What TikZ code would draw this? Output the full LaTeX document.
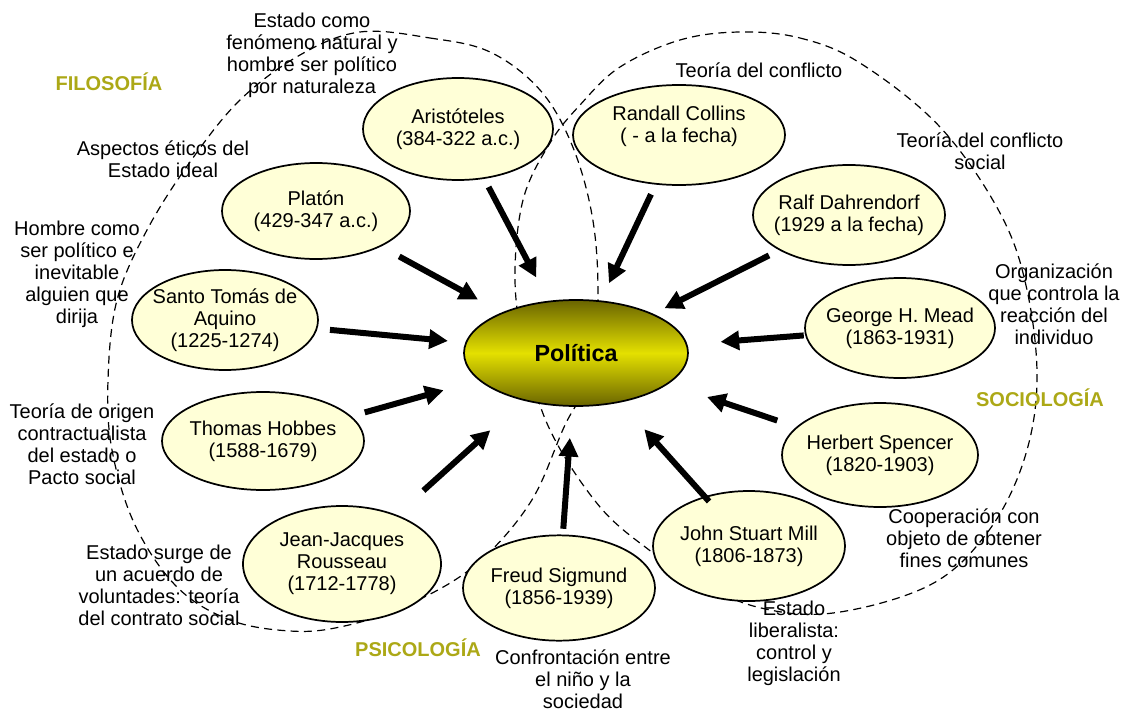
\documentclass[tikz,border=0pt]{standalone}
\usepackage{fontspec}
\setmainfont{Liberation Sans}
\usetikzlibrary{arrows.meta,shapes.geometric,calc}

\definecolor{cream}{RGB}{255,255,215}
\definecolor{olivedark}{RGB}{105,100,0}
\definecolor{olivebright}{RGB}{228,224,0}
\definecolor{fieldtxt}{RGB}{172,168,22}

\begin{document}
\begin{tikzpicture}[x=0.75pt,y=-0.75pt,
  person/.style={ellipse, draw, line width=1.3pt, fill=cream,
    inner xsep=-12pt, inner ysep=-6pt,
    align=center, font=\fontsize{15}{16.5}\selectfont},
  note/.style={align=center, inner sep=0pt, font=\fontsize{15}{16.5}\selectfont},
  field/.style={inner sep=0pt, text=fieldtxt, font=\bfseries\fontsize{15}{17}\selectfont},
  infl/.style={line width=4.5pt, -{Triangle[length=14pt,width=14pt]}},
  fieldline/.style={line width=0.9pt, dash pattern=on 6pt off 4pt}]

\useasboundingbox (0,0) rectangle (1127,713);

% the two fields of thought
\draw[fieldline] plot[smooth cycle, tension=0.6] coordinates {
  (360,32) (430,38) (490,52) (540,90) (572,145) (592,215) (598,290)
  (593,370) (565,425) (530,503) (473,567) (403,607) (340,627) (290,631)
  (230,620) (177,587) (135,525) (112,450) (108,380) (117,300) (147,230)
  (190,162) (240,100) (300,55)};
\draw[fieldline] plot[smooth cycle, tension=0.6] coordinates {
  (740,32) (800,38) (860,63) (940,127) (1000,213) (1027,290) (1037,383)
  (1023,463) (987,533) (930,585) (833,613) (757,607) (690,578) (653,553)
  (600,507) (550,430) (525,350) (515,280) (523,200) (550,143) (580,105)
  (620,67) (680,40)};

% central concept
\node[ellipse, draw, line width=1.3pt, inner sep=0pt,
  minimum width=168pt, minimum height=79.5pt,
  top color=olivedark, bottom color=olivedark, middle color=olivebright,
  font=\bfseries\fontsize{17.5}{21}\selectfont] (pol) at (576,353) {Política};

% authors
\node[person, minimum width=142.5pt, minimum height=76.5pt] (ari) at (458,129) {Aristóteles\\(384-322 a.c.)};
\node[person, minimum width=159pt, minimum height=75pt] (ran) at (679,135) {Randall Collins\\( - a la fecha)\\\mbox{}};
\node[person, minimum width=144pt, minimum height=75pt] (ral) at (849,215) {Ralf Dahrendorf\\(1929 a la fecha)};
\node[person, minimum width=142.5pt, minimum height=75pt] (mea) at (900,328) {George H. Mead\\(1863-1931)};
\node[person, minimum width=147pt, minimum height=78pt] (spe) at (880,455) {Herbert Spencer\\(1820-1903)};
\node[person, minimum width=144pt, minimum height=82.5pt] (mil) at (749,546) {John Stuart Mill\\(1806-1873)};
\node[person, minimum width=144pt, minimum height=79pt] (fre) at (559,588) {Freud Sigmund\\(1856-1939)};
\node[person, minimum width=148.5pt, minimum height=87pt] (rou) at (342,564) {Jean-Jacques\\Rousseau\\(1712-1778)};
\node[person, minimum width=151.5pt, minimum height=73.5pt] (hob) at (263,441) {Thomas Hobbes\\(1588-1679)};
\node[person, minimum width=139.5pt, minimum height=75pt] (tom) at (225,320) {Santo Tomás de\\Aquino\\(1225-1274)};
\node[person, minimum width=141pt, minimum height=72pt] (pla) at (316,211) {Platón\\(429-347 a.c.)};

% influences
\draw[infl] ($(ari)!0.259!(pol)$) -- ($(ari)!0.663!(pol)$);
\draw[infl] ($(ran)!0.272!(pol)$) -- ($(ran)!0.680!(pol)$);
\draw[infl] ($(ral)!0.293!(pol)$) -- ($(ral)!0.676!(pol)$);
\draw[infl] ($(pla)!0.320!(pol)$) -- ($(pla)!0.623!(pol)$);
\draw[infl] ($(tom)!0.299!(pol)$) -- ($(tom)!0.635!(pol)$);
\draw[infl] ($(hob)!0.325!(pol)$) -- ($(hob)!0.577!(pol)$);
\draw[infl] ($(rou)!0.348!(pol)$) -- ($(rou)!0.634!(pol)$);
\draw[infl] ($(fre)!0.252!(pol)$) -- ($(fre)!0.639!(pol)$);
\draw[infl] ($(mil)!0.231!(pol)$) -- ($(mil)!0.605!(pol)$);
\draw[infl] ($(spe)!0.338!(pol)$) -- ($(spe)!0.569!(pol)$);
\draw[infl] ($(mea)!0.297!(pol)$) -- ($(mea)!0.554!(pol)$);

% field labels
\node[field] (fil) at (109,82) {FILOSOFÍA};
\node[field] (psi) at (418,648) {PSICOLOGÍA};
\node[field] (soc) at (1040,398) {SOCIOLOGÍA};

% ideas of each author
\node[note] (n-ari) at (312,55) {Estado como\\fenómeno natural y\\hombre ser político\\por naturaleza};
\node[note] (n-pla) at (163,159) {Aspectos éticos del\\Estado ideal};
\node[note] (n-tom) at (77,274) {Hombre como\\ser político e\\inevitable\\alguien que\\dirija};
\node[note] (n-hob) at (82,444) {Teoría de origen\\contractualista\\del estado o\\Pacto social};
\node[note] (n-rou) at (159,585) {Estado surge de\\un acuerdo de\\voluntades: teoría\\del contrato social};
\node[note] (n-fre) at (583,679) {Confrontación entre\\el niño y la\\sociedad};
\node[note] (n-mil) at (794,643) {Estado\\liberalista:\\control y\\legislación};
\node[note] (n-spe) at (964,538) {Cooperación con\\objeto de obtener\\fines comunes};
\node[note] (n-mea) at (1054,304) {Organización\\que controla la\\reacción del\\individuo};
\node[note] (n-ral) at (980,151) {Teoría del conflicto\\social};
\node[note] (n-ran) at (759,70) {Teoría del conflicto};

\end{tikzpicture}
\end{document}
